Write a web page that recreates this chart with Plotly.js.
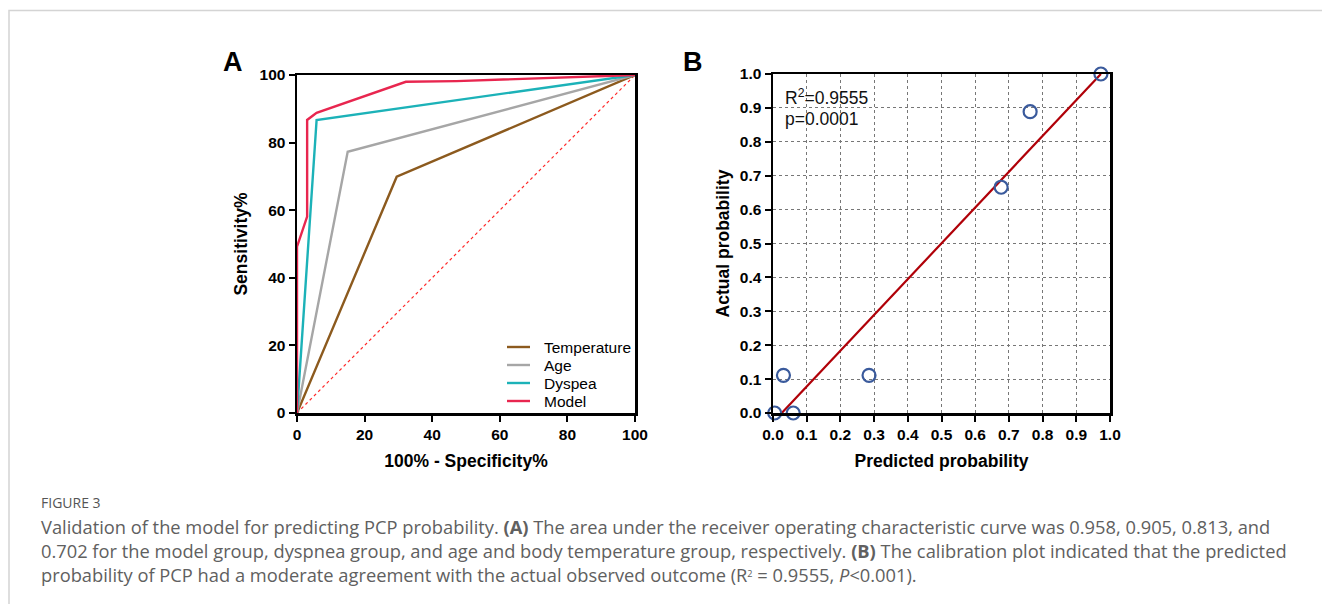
<!DOCTYPE html>
<html>
<head>
<meta charset="utf-8">
<script src="https://cdn.plot.ly/plotly-3.0.1.min.js"></script>
<style>html,body{margin:0;padding:0;background:#fff;}#chart{width:1322px;height:604px;}</style>
</head>
<body>
<div id="chart"></div>
<script>
// Panel A: ROC curves (100% - Specificity%, Sensitivity%)
const tempX = [0, 29.5, 100];
const tempY = [0, 69.9, 100];
const ageX = [0, 15.0, 100];
const ageY = [0, 77.3, 100];
const dyspX = [0, 5.8, 100];
const dyspY = [0, 86.7, 100];
const modelX = [0, 0, 3.0, 3.0, 5.8, 32.2, 47.2, 100];
const modelY = [0, 49.2, 58.1, 86.7, 88.8, 98.0, 98.2, 100];
const refX = [0, 100];
const refY = [0, 100];
const rocNames = ["Temperature", "Age", "Dyspea", "Model"];
const rocColors = ["#8c5a1e", "#a6a6a6", "#1cb2b8", "#e8264f"];

// Panel B: calibration plot
const predProb = [0.005, 0.031, 0.060, 0.285, 0.677, 0.763, 0.973];
const actualProb = [0.0, 0.111, 0.0, 0.111, 0.666, 0.889, 1.0];
const fitX = [0.026, 0.973];
const fitY = [0.0, 1.0];
const calTicks = [0, 0.1, 0.2, 0.3, 0.4, 0.5, 0.6, 0.7, 0.8, 0.9, 1.0];
const rocTicks = [0, 20, 40, 60, 80, 100];

const W = 1322, H = 604;
const px = v => v / W;
const py = v => 1 - v / H;
const ARIAL = "Liberation Sans, Arial, sans-serif";
const CAP = "Open Sans, Lato, sans-serif";

const tickFont = {family: ARIAL, size: 15.5, color: "#000", weight: "bold"};
const titleFont = {family: ARIAL, size: 17.5, color: "#000", weight: "bold"};

const axisCommon = {
  showline: true, linecolor: "#000", linewidth: 2.5, mirror: true,
  ticks: "outside", ticklen: 6, tickwidth: 2, tickcolor: "#000",
  tickfont: tickFont, zeroline: false, fixedrange: true, showgrid: false
};

const rocX = [tempX, ageX, dyspX, modelX];
const rocY = [tempY, ageY, dyspY, modelY];

const traces = [
  {x: refX, y: refY, mode: "lines", showlegend: false, line: {color: "#ff2a2a", width: 1.2, dash: "dot"}, xaxis: "x", yaxis: "y"}
];
rocNames.forEach((n, i) => traces.push({
  x: rocX[i], y: rocY[i], name: n, mode: "lines", showlegend: false,
  line: {color: rocColors[i], width: 2.4}, xaxis: "x", yaxis: "y"
}));
traces.push(
  {x: fitX, y: fitY, mode: "lines", showlegend: false, line: {color: "#b00008", width: 2.2}, xaxis: "x2", yaxis: "y2"},
  {x: predProb, y: actualProb, mode: "markers", showlegend: false, cliponaxis: false,
   marker: {symbol: "circle-open", size: 13, color: "#3a5a9c", line: {width: 2.2, color: "#3a5a9c"}}, xaxis: "x2", yaxis: "y2"}
);

// manual legend (inside panel A, lower right)
const legRowsY = [347, 365, 383, 401];
const legShapes = rocNames.map((n, i) => ({
  type: "line", xref: "paper", yref: "paper",
  x0: px(507), x1: px(530), y0: py(legRowsY[i]), y1: py(legRowsY[i]),
  line: {color: rocColors[i], width: 2.4}
}));
const legAnn = rocNames.map((n, i) => ({
  text: n, xref: "paper", yref: "paper", x: px(542), y: py(legRowsY[i]),
  xanchor: "left", yanchor: "middle", showarrow: false,
  font: {family: ARIAL, size: 15.5, color: "#000"}
}));

const layout = {
  width: W, height: H,
  margin: {l: 0, r: 0, t: 0, b: 0},
  paper_bgcolor: "#fff", plot_bgcolor: "#fff",
  showlegend: false,
  xaxis: Object.assign({}, axisCommon, {
    domain: [px(297), px(635)], range: [0, 100], tickvals: rocTicks, anchor: "y",
    title: {text: "100% - Specificity%", font: titleFont, standoff: 13}
  }),
  yaxis: Object.assign({}, axisCommon, {
    domain: [py(413), py(75)], range: [0, 100], tickvals: rocTicks, anchor: "x",
    title: {text: "Sensitivity%", font: titleFont, standoff: 8}
  }),
  xaxis2: Object.assign({}, axisCommon, {
    domain: [px(773), px(1110)], range: [0, 1], tickvals: calTicks, tickformat: ".1f", anchor: "y2",
    showgrid: true, gridcolor: "#777", gridwidth: 1, griddash: "dot",
    title: {text: "Predicted probability", font: titleFont, standoff: 13}
  }),
  yaxis2: Object.assign({}, axisCommon, {
    domain: [py(413), py(74)], range: [0, 1], tickvals: calTicks, tickformat: ".1f", anchor: "x2",
    showgrid: true, gridcolor: "#777", gridwidth: 1, griddash: "dot",
    title: {text: "Actual probability", font: titleFont, standoff: 6}
  }),
  shapes: [
    {type: "rect", xref: "paper", yref: "paper", x0: px(9), x1: 1.05, y0: -0.05, y1: py(10.5),
     line: {color: "#d4d4d4", width: 1.5}, fillcolor: "rgba(0,0,0,0)", layer: "below"}
  ].concat(legShapes),
  annotations: [
    {text: "A", xref: "paper", yref: "paper", x: px(233), y: py(62), xanchor: "center", yanchor: "middle",
     showarrow: false, font: {family: ARIAL, size: 27, color: "#000", weight: "bold"}},
    {text: "B", xref: "paper", yref: "paper", x: px(693), y: py(62), xanchor: "center", yanchor: "middle",
     showarrow: false, font: {family: ARIAL, size: 27, color: "#000", weight: "bold"}},
    {text: "R<sup>2</sup>=0.9555", xref: "paper", yref: "paper", x: px(783), y: py(97), xanchor: "left", yanchor: "middle",
     showarrow: false, font: {family: ARIAL, size: 17.5, color: "#111"}},
    {text: "p=0.0001", xref: "paper", yref: "paper", x: px(783), y: py(119), xanchor: "left", yanchor: "middle",
     showarrow: false, font: {family: ARIAL, size: 17.5, color: "#111"}},
    {text: "FIGURE 3", xref: "paper", yref: "paper", x: px(39), y: py(502), xanchor: "left", yanchor: "middle",
     showarrow: false, font: {family: CAP, size: 14, color: "#555"}},
    {text: "Validation of the model for predicting PCP probability. <b>(A)</b> The area under the receiver operating characteristic curve was 0.958, 0.905, 0.813, and",
     xref: "paper", yref: "paper", x: px(39), y: py(526), xanchor: "left", yanchor: "middle",
     showarrow: false, font: {family: CAP, size: 18.3, color: "#606060"}},
    {text: "0.702 for the model group, dyspnea group, and age and body temperature group, respectively. <b>(B)</b> The calibration plot indicated that the predicted",
     xref: "paper", yref: "paper", x: px(39), y: py(550), xanchor: "left", yanchor: "middle",
     showarrow: false, font: {family: CAP, size: 18.3, color: "#606060"}},
    {text: "probability of PCP had a moderate agreement with the actual observed outcome (R<span style=\"font-size:13px\"><sup>2</sup></span> = 0.9555, <i>P</i>&lt;0.001).",
     xref: "paper", yref: "paper", x: px(39), y: py(574), xanchor: "left", yanchor: "middle",
     showarrow: false, font: {family: CAP, size: 18.3, color: "#606060"}}
  ].concat(legAnn)
};

Plotly.newPlot("chart", traces, layout, {displayModeBar: false, staticPlot: true});
</script>
</body>
</html>
